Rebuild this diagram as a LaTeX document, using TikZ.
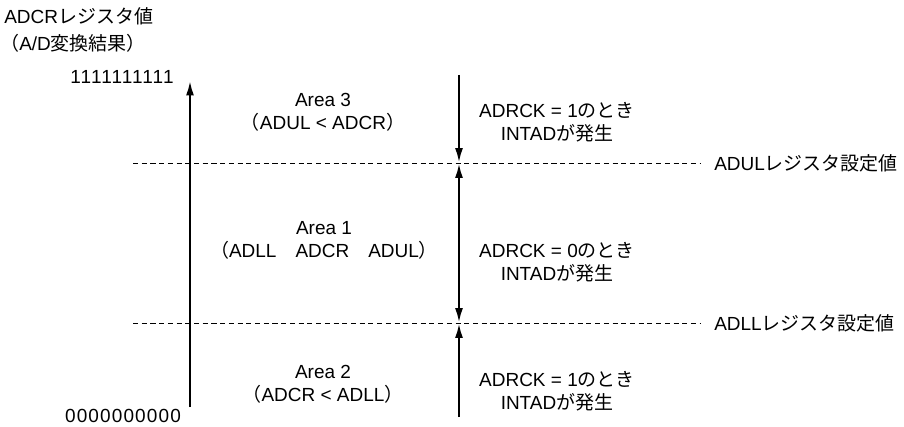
\documentclass[tikz,border=0pt]{standalone}
\usepackage{fontspec}
\setmainfont{Liberation Sans}
\newfontfamily\jpfont{Noto Sans CJK JP}
\newfontfamily\digitfont[LetterSpace=6]{Liberation Sans}
\usetikzlibrary{arrows.meta, positioning}
\newcommand{\ja}[1]{{\jpfont #1}}

\begin{document}
\begin{tikzpicture}[x=0.025cm, y=-0.025cm,
  lbl/.style={font=\fontsize{13.5}{16.5}\selectfont, inner sep=0pt, align=center},
  limit/.style={dash pattern=on 3.6pt off 2.6pt, line width=0.5pt},
  spanline/.style={line width=1.5pt},
  >={Latex[length=3.6mm, width=2mm]}
]
  \useasboundingbox (0,0) rectangle (904,427);

  % ── axis ──
  \node[lbl, anchor=west] (ylab) at (4,16) {ADCR\ja{レジスタ値}};
  \node[lbl, anchor=west] (yunit) at (0,43) {\ja{（}A/D\ja{変換結果}\ja{）}};
  \node[lbl, font=\fontsize{13.5}{16.5}\digitfont] (vmax) at (122,77) {1111111111};
  \node[lbl, font=\fontsize{13.5}{16.5}\digitfont] (vmin) at (123,416) {0000000000};
  \coordinate (axbot) at (190,407);
  \coordinate (axtop) at (190,81);
  \draw[spanline, ->] (axbot) -- (axtop);

  % ── limits ──
  \node[lbl, anchor=west] (ulset) at (714,163) {ADUL\ja{レジスタ設定値}};
  \node[lbl, anchor=west] (llset) at (714,323) {ADLL\ja{レジスタ設定値}};
  \coordinate (ulbeg) at (133,163);
  \coordinate (llbeg) at (133,323);
  \draw[limit, shorten >=3.5mm] (ulbeg) -- (ulset.west);
  \draw[limit, shorten >=3.5mm] (llbeg) -- (llset.west);

  % ── areas ──
  \node[lbl] (area3) at (323,112) {Area 3\\\ja{（}ADUL < ADCR\ja{）}};
  \node[lbl] (area1) at (324,240) {Area 1\\\ja{（}ADLL\quad ADCR\quad ADUL\ja{）}};
  \node[lbl] (area2) at (323,384) {Area 2\\\ja{（}ADCR < ADLL\ja{）}};

  % ── interrupt ranges ──
  \coordinate (ultop) at (459,75);
  \coordinate (ulhi) at (459,162.5);
  \coordinate (ullo) at (459,163.5);
  \coordinate (llhi) at (459,322.5);
  \coordinate (lllo) at (459,323.5);
  \coordinate (llbot) at (459,417);
  \draw[spanline, ->] (ultop) -- (ulhi);
  \draw[spanline, <->] (ullo) -- (llhi);
  \draw[spanline, ->] (llbot) -- (lllo);
  \node[lbl] (int3) at (557,122) {ADRCK = 1\ja{のとき}\\INTAD\ja{が発生}};
  \node[lbl] (int1) at (557,262) {ADRCK = 0\ja{のとき}\\INTAD\ja{が発生}};
  \node[lbl] (int2) at (557,391) {ADRCK = 1\ja{のとき}\\INTAD\ja{が発生}};
\end{tikzpicture}
\end{document}
